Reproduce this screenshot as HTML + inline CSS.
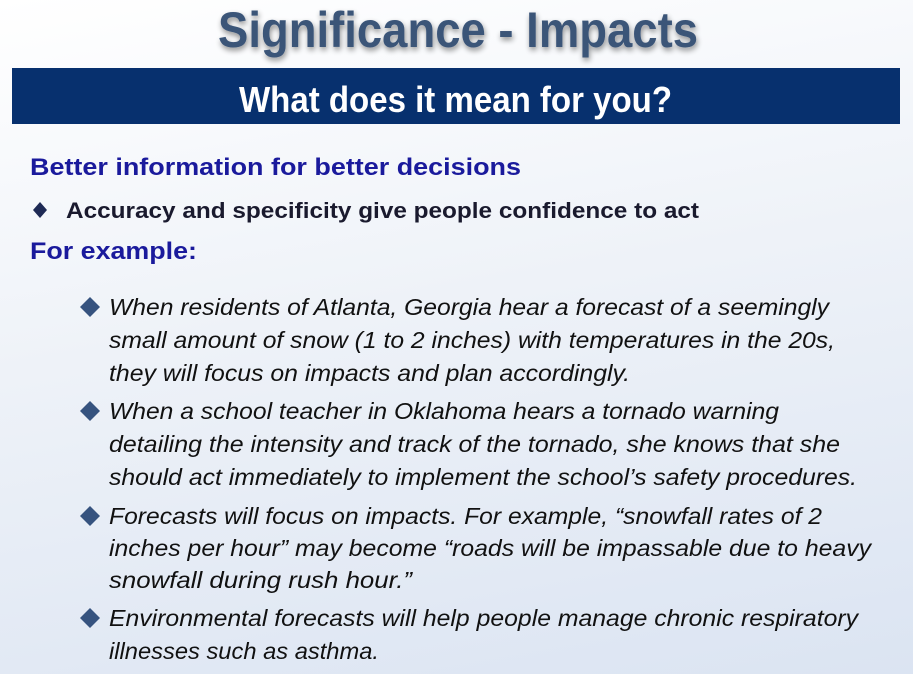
<!DOCTYPE html>
<html><head><meta charset="utf-8"><style>
html,body{margin:0;padding:0}
body{width:913px;height:674px;overflow:hidden;background:linear-gradient(170deg,#ffffff 0%,#eef2f8 45%,#dbe4f2 100%)}
svg{display:block}
.it{font-family:"Liberation Sans",sans-serif;font-style:italic;font-size:23px;fill:#111}
</style></head><body>
<svg width="913" height="674">
<defs><filter id="sh" x="-10%" y="-30%" width="120%" height="160%"><feGaussianBlur in="SourceAlpha" stdDeviation="3"/><feOffset dx="1" dy="3"/><feComponentTransfer><feFuncA type="linear" slope="0.45"/></feComponentTransfer><feMerge><feMergeNode/><feMergeNode in="SourceGraphic"/></feMerge></filter></defs>
<text x="218" y="47" textLength="480" lengthAdjust="spacingAndGlyphs" font-family="Liberation Sans Narrow, Liberation Sans, sans-serif" font-weight="bold" font-size="50" fill="#3b5478" filter="url(#sh)">Significance - Impacts</text>
<rect x="12" y="68" width="888" height="56" fill="#07306e"/>
<text x="239" y="112" textLength="433" lengthAdjust="spacingAndGlyphs" font-family="Liberation Sans Narrow, Liberation Sans, sans-serif" font-weight="bold" font-size="36" fill="#fff">What does it mean for you?</text>
<text x="30" y="175" textLength="491" lengthAdjust="spacingAndGlyphs" font-family="Liberation Sans, sans-serif" font-weight="bold" font-size="24" fill="#1a1a9c">Better information for better decisions</text>
<polygon points="40,202 47,210 40,218 33,210" fill="#1e2a55"/>
<text x="66" y="218" textLength="633" lengthAdjust="spacingAndGlyphs" font-family="Liberation Sans, sans-serif" font-weight="bold" font-size="22" fill="#1a1a2e">Accuracy and specificity give people confidence to act</text>
<text x="30" y="259" textLength="167" lengthAdjust="spacingAndGlyphs" font-family="Liberation Sans, sans-serif" font-weight="bold" font-size="24" fill="#1a1a9c">For example:</text>
<g>
<polygon points="90,297 100,307 90,317 80,307" fill="#36537f"/>
<text class="it" x="109" y="315" textLength="720" lengthAdjust="spacingAndGlyphs">When residents of Atlanta, Georgia hear a forecast of a seemingly</text>
<text class="it" x="109" y="348" textLength="726" lengthAdjust="spacingAndGlyphs">small amount of snow (1 to 2 inches) with temperatures in the 20s,</text>
<text class="it" x="109" y="381" textLength="521" lengthAdjust="spacingAndGlyphs">they will focus on impacts and plan accordingly.</text>
<polygon points="90,401 100,411 90,421 80,411" fill="#36537f"/>
<text class="it" x="109" y="419" textLength="670" lengthAdjust="spacingAndGlyphs">When a school teacher in Oklahoma hears a tornado warning</text>
<text class="it" x="109" y="452" textLength="731" lengthAdjust="spacingAndGlyphs">detailing the intensity and track of the tornado, she knows that she</text>
<text class="it" x="109" y="485" textLength="748" lengthAdjust="spacingAndGlyphs">should act immediately to implement the school’s safety procedures.</text>
<polygon points="90,506 100,516 90,526 80,516" fill="#36537f"/>
<text class="it" x="109" y="524" textLength="713" lengthAdjust="spacingAndGlyphs">Forecasts will focus on impacts. For example, “snowfall rates of 2</text>
<text class="it" x="109" y="556" textLength="762" lengthAdjust="spacingAndGlyphs">inches per hour” may become “roads will be impassable due to heavy</text>
<text class="it" x="109" y="588" textLength="303" lengthAdjust="spacingAndGlyphs">snowfall during rush hour.”</text>
<polygon points="90,608 100,618 90,628 80,618" fill="#36537f"/>
<text class="it" x="109" y="626" textLength="749" lengthAdjust="spacingAndGlyphs">Environmental forecasts will help people manage chronic respiratory</text>
<text class="it" x="109" y="659" textLength="270" lengthAdjust="spacingAndGlyphs">illnesses such as asthma.</text>
</g>
</svg>
</body></html>
